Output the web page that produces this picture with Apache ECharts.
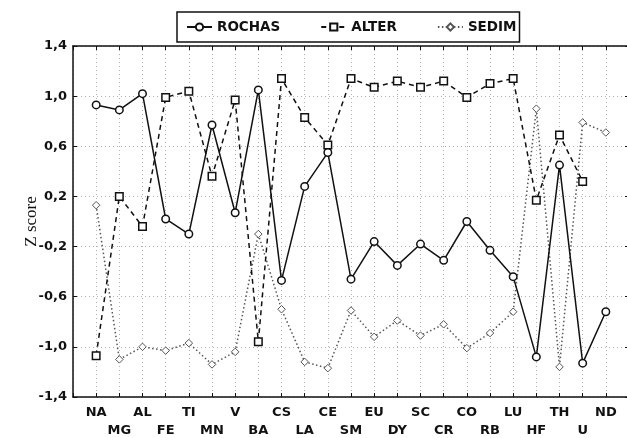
<!DOCTYPE html>
<html>
<head>
<meta charset="utf-8">
<script src="https://cdn.jsdelivr.net/npm/echarts@6/dist/echarts.min.js"></script>
<style>html,body{margin:0;padding:0;background:#fff}#c{width:627px;height:438px}</style>
</head>
<body>
<div id="c"></div>
<script>
const categories = ['NA','MG','AL','FE','TI','MN','V','BA','CS','LA','CE','SM','EU','DY','SC','CR','CO','RB','LU','HF','TH','U','ND'];
const rochas = [0.93,0.89,1.02,0.02,-0.10,0.77,0.07,1.05,-0.47,0.28,0.55,-0.46,-0.16,-0.35,-0.18,-0.31,0.00,-0.23,-0.44,-1.08,0.45,-1.13,-0.72];
const alter  = [-1.07,0.20,-0.04,0.99,1.04,0.36,0.97,-0.96,1.14,0.83,0.61,1.14,1.07,1.12,1.07,1.12,0.99,1.10,1.14,0.17,0.69,0.32,null];
const sedim  = [0.13,-1.10,-1.00,-1.03,-0.97,-1.14,-1.04,-0.10,-0.70,-1.12,-1.17,-0.71,-0.92,-0.79,-0.91,-0.82,-1.01,-0.89,-0.72,0.90,-1.16,0.79,0.71];
const yMin = -1.4, yMax = 1.4, yStep = 0.4;

const cats = [''].concat(categories, ['']);
const pad = a => [null].concat(a, [null]);
const fmt = v => (Math.abs(v) < 1e-9 ? 0 : v).toFixed(1).replace('.', ',');
const font = 'DejaVu Sans';

const chart = echarts.init(document.getElementById('c'), null, {renderer: 'canvas'});
const axisLine = {show: true, onZero: false, lineStyle: {color: '#111', width: 1.5}};
const tick = {show: true, inside: true, length: 4, lineStyle: {color: '#111', width: 1}};
const split = {show: true, lineStyle: {color: '#b0b0b0', type: [1, 3], width: 1}};
chart.setOption({
  animation: false,
  backgroundColor: '#fff',
  grid: {left: 73, top: 46, width: 556, height: 351, containLabel: false, outerBoundsMode: 'none'},
  legend: {
    left: 177, top: 12,
    padding: [8, 3, 8, 9],
    itemGap: 40, itemWidth: 25, itemHeight: 9,
    borderColor: '#111', borderWidth: 1.5,
    textStyle: {fontFamily: font, fontWeight: 'bold', fontSize: 13.5, color: '#111'},
    data: ['ROCHAS', 'ALTER', 'SEDIM']
  },
  xAxis: [{
    type: 'category', data: cats, boundaryGap: false,
    axisLine: axisLine, axisTick: {show: true, inside: true, length: 4, interval: 0, lineStyle: {color: '#111'}},
    splitLine: {show: true, interval: 0, lineStyle: {color: '#b0b0b0', type: [1, 3], width: 1}},
    axisLabel: {
      interval: 0, margin: 6, lineHeight: 18.5,
      fontFamily: font, fontWeight: 'bold', fontSize: 13, color: '#111',
      formatter: (v, i) => (v === '' ? '' : ((i - 1) % 2 === 1 ? '\n' + v : v))
    }
  }, {
    type: 'category', data: cats, boundaryGap: false, position: 'top',
    axisLine: axisLine, axisTick: {show: true, inside: true, length: 4, interval: 0, lineStyle: {color: '#111'}},
    axisLabel: {show: false}, splitLine: {show: false}
  }],
  yAxis: [{
    type: 'value', min: yMin, max: yMax, interval: yStep,
    name: 'Z score', nameLocation: 'middle', nameGap: 33, nameRotate: 90, nameMoveOverlap: false,
    nameTextStyle: {fontFamily: 'Liberation Serif', fontSize: 17, color: '#111'},
    axisLine: axisLine, axisTick: tick, splitLine: split,
    axisLabel: {fontFamily: font, fontWeight: 'bold', fontSize: 13, color: '#111', margin: 6, formatter: fmt}
  }, {
    type: 'value', min: yMin, max: yMax, interval: yStep, position: 'right',
    axisLine: axisLine, axisTick: tick, splitLine: {show: false}, axisLabel: {show: false}
  }],
  series: [{
    name: 'ROCHAS', type: 'line', data: pad(rochas),
    symbol: 'circle', symbolSize: 7.5, showSymbol: true,
    lineStyle: {color: '#111', width: 1.5, type: 'solid'},
    itemStyle: {color: '#fff', borderColor: '#111', borderWidth: 1.5},
    z: 3
  }, {
    name: 'ALTER', type: 'line', data: pad(alter),
    symbol: 'rect', symbolSize: 7.5,
    lineStyle: {color: '#111', width: 1.5, type: [5, 4]},
    itemStyle: {color: '#fff', borderColor: '#111', borderWidth: 1.5},
    z: 2
  }, {
    name: 'SEDIM', type: 'line', data: pad(sedim),
    symbol: 'diamond', symbolSize: 7.5,
    lineStyle: {color: '#555', width: 1.5, type: [1.5, 2.5]},
    itemStyle: {color: '#fff', borderColor: '#555', borderWidth: 1},
    z: 1
  }]
});
</script>
</body>
</html>
